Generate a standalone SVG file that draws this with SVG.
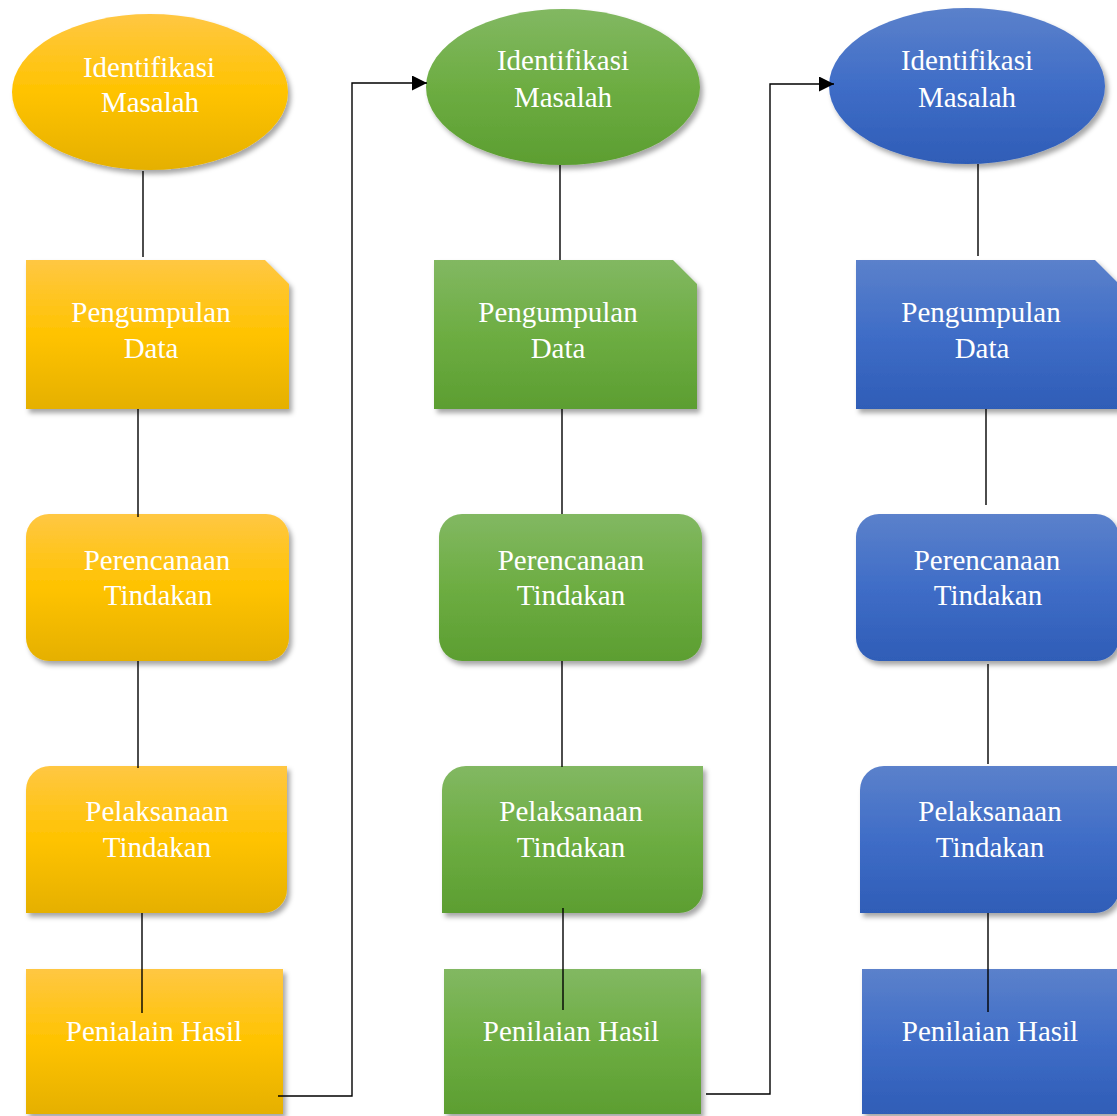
<svg xmlns="http://www.w3.org/2000/svg" width="1117" height="1116" viewBox="0 0 1117 1116">
<style>
.t{font-family:"Liberation Serif","Times New Roman",serif;font-size:29px;fill:#fff;text-anchor:middle}
.c{fill:none;stroke:#000;stroke-width:1.4}
.y{fill:url(#gy);filter:url(#sh)}
.g{fill:url(#gg);filter:url(#sh)}
.b{fill:url(#gb);filter:url(#sh)}
</style>
<defs>
<linearGradient id="gy" x1="0" y1="0" x2="0" y2="1">
<stop offset="0" stop-color="#FFC743"/><stop offset="0.5" stop-color="#FFC300"/><stop offset="1" stop-color="#E5B000"/>
</linearGradient>
<linearGradient id="gg" x1="0" y1="0" x2="0" y2="1">
<stop offset="0" stop-color="#82B862"/><stop offset="0.5" stop-color="#6DAD42"/><stop offset="1" stop-color="#5C9E31"/>
</linearGradient>
<linearGradient id="gb" x1="0" y1="0" x2="0" y2="1">
<stop offset="0" stop-color="#5B81CB"/><stop offset="0.5" stop-color="#3F6DC7"/><stop offset="1" stop-color="#2F5DB7"/>
</linearGradient>
<filter id="sh" x="-10%" y="-10%" width="125%" height="130%">
<feDropShadow dx="3" dy="4" stdDeviation="2.5" flood-color="#000" flood-opacity="0.35"/>
</filter>
<marker id="ar" viewBox="0 0 10 10" refX="10" refY="5" markerWidth="16" markerHeight="15" markerUnits="userSpaceOnUse" orient="auto">
<path d="M0 0 L10 5 L0 10 Z" fill="#000"/>
</marker>
</defs>

<g id="y1"><ellipse class="y" cx="150" cy="92" rx="138" ry="78"/><text class="t" x="149" y="77">Identifikasi</text><text class="t" x="150" y="112">Masalah</text></g>
<g id="y2"><path class="y" d="M26 260 H265 L289 284 V409 H26 Z"/><text class="t" x="151" y="322">Pengumpulan</text><text class="t" x="151" y="358">Data</text></g>
<g id="y3"><rect class="y" x="26" y="514" width="263" height="147" rx="23"/><text class="t" x="157" y="570">Perencanaan</text><text class="t" x="158" y="605">Tindakan</text></g>
<g id="y4"><path class="y" d="M50 766 H287 V889 A24 24 0 0 1 263 913 H26 V790 A24 24 0 0 1 50 766 Z"/><text class="t" x="157" y="821">Pelaksanaan</text><text class="t" x="157" y="857">Tindakan</text></g>
<g id="y5"><rect class="y" x="26" y="969" width="257" height="145"/><text class="t" x="154" y="1041">Penialain Hasil</text></g>

<g id="g1"><ellipse class="g" cx="563" cy="87" rx="137" ry="78"/><text class="t" x="563" y="70">Identifikasi</text><text class="t" x="563" y="107">Masalah</text></g>
<g id="g2"><path class="g" d="M434 260 H673 L697 284 V409 H434 Z"/><text class="t" x="558" y="322">Pengumpulan</text><text class="t" x="558" y="358">Data</text></g>
<g id="g3"><rect class="g" x="439" y="514" width="263" height="147" rx="23"/><text class="t" x="571" y="570">Perencanaan</text><text class="t" x="571" y="605">Tindakan</text></g>
<g id="g4"><path class="g" d="M466 766 H703 V889 A24 24 0 0 1 679 913 H442 V790 A24 24 0 0 1 466 766 Z"/><text class="t" x="571" y="821">Pelaksanaan</text><text class="t" x="571" y="857">Tindakan</text></g>
<g id="g5"><rect class="g" x="444" y="969" width="257" height="145"/><text class="t" x="571" y="1041">Penilaian Hasil</text></g>

<g id="b1"><ellipse class="b" cx="967" cy="86" rx="138" ry="78"/><text class="t" x="967" y="70">Identifikasi</text><text class="t" x="967" y="107">Masalah</text></g>
<g id="b2"><path class="b" d="M856 260 H1095 L1119 284 V409 H856 Z"/><text class="t" x="981" y="322">Pengumpulan</text><text class="t" x="982" y="358">Data</text></g>
<g id="b3"><rect class="b" x="856" y="514" width="263" height="147" rx="23"/><text class="t" x="987" y="570">Perencanaan</text><text class="t" x="988" y="605">Tindakan</text></g>
<g id="b4"><path class="b" d="M884 766 H1119 V889 A24 24 0 0 1 1095 913 H860 V790 A24 24 0 0 1 884 766 Z"/><text class="t" x="990" y="821">Pelaksanaan</text><text class="t" x="990" y="857">Tindakan</text></g>
<g id="b5"><rect class="b" x="862" y="969" width="257" height="145"/><text class="t" x="990" y="1041">Penilaian Hasil</text></g>

<g id="connectors">
<path class="c" d="M143 171 V257"/>
<path class="c" d="M138 409 V517"/>
<path class="c" d="M138 661 V768"/>
<path class="c" d="M142 913 V1013"/>
<path class="c" d="M560 165 V260"/>
<path class="c" d="M562 409 V514"/>
<path class="c" d="M562 661 V767"/>
<path class="c" d="M563 908 V1010"/>
<path class="c" d="M978 164 V256"/>
<path class="c" d="M986 409 V505"/>
<path class="c" d="M988 664 V764"/>
<path class="c" d="M988 913 V1012"/>
<path class="c" d="M278 1096 H352 V83 H427" marker-end="url(#ar)"/>
<path class="c" d="M706 1094 H770 V84 H834" marker-end="url(#ar)"/>
</g>
</svg>
